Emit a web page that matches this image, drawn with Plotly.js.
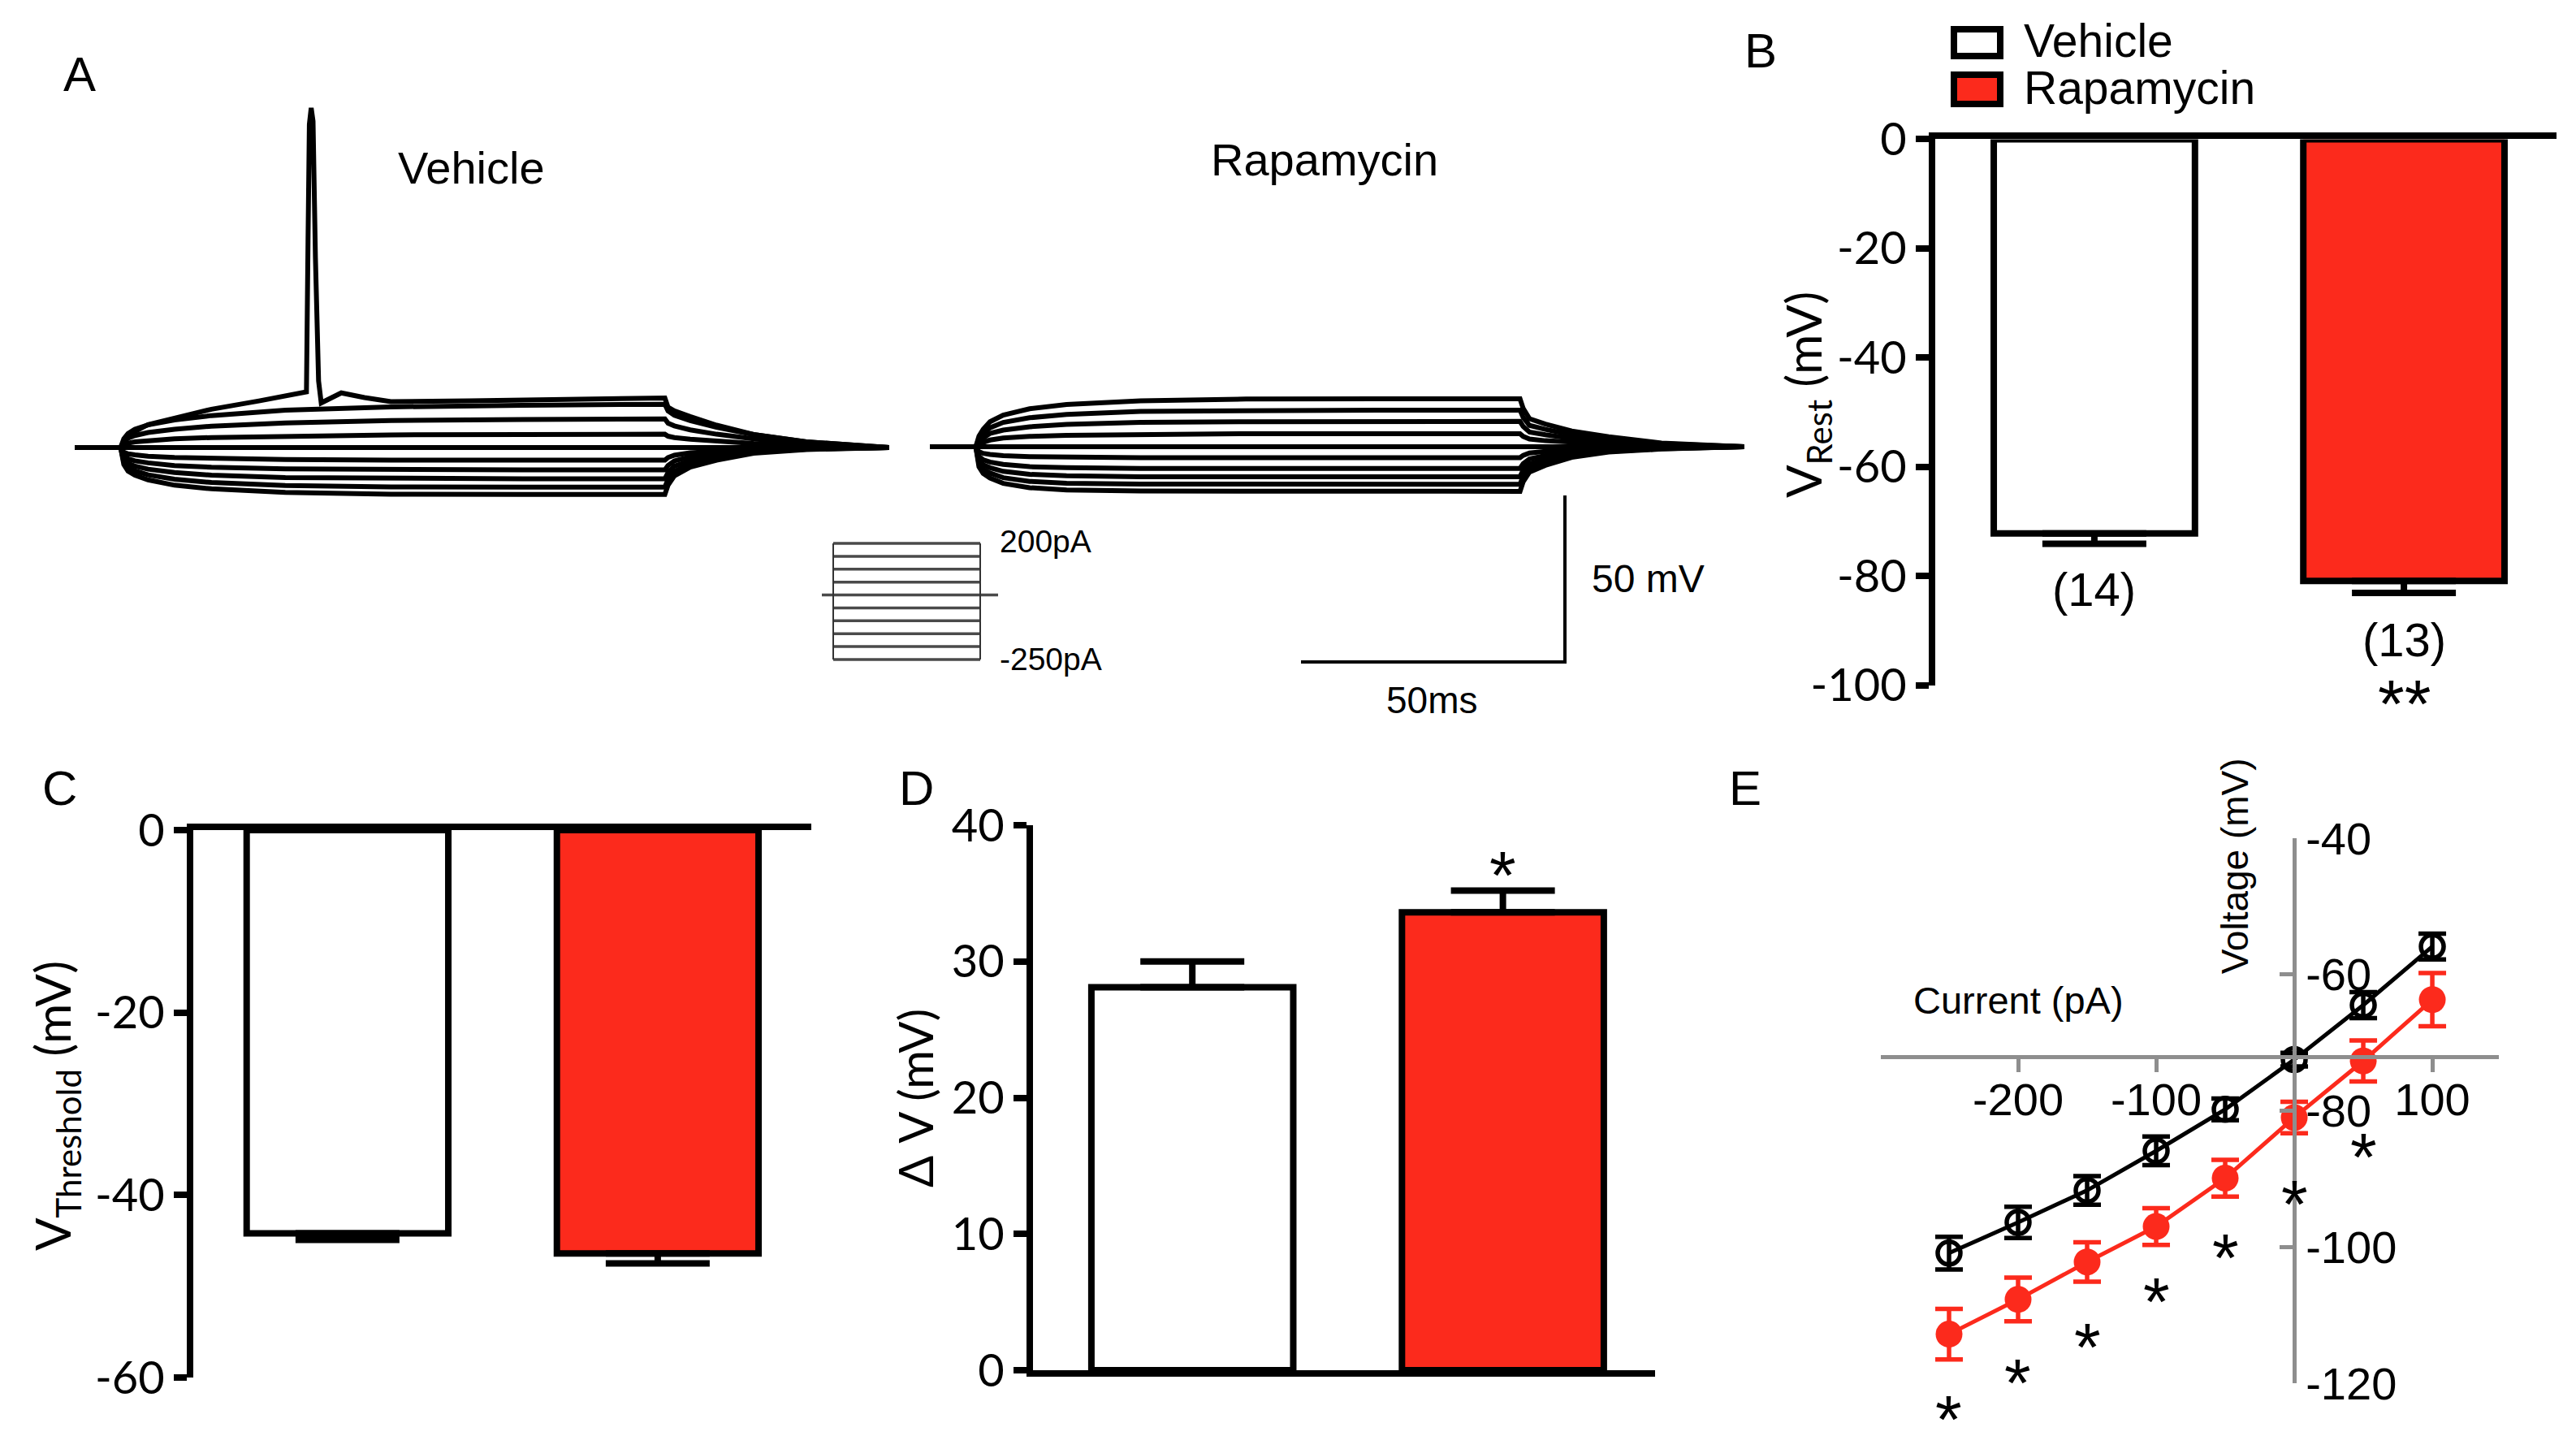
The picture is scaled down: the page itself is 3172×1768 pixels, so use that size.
<!DOCTYPE html>
<html>
<head>
<meta charset="utf-8">
<script src="https://cdn.plot.ly/plotly-3.0.1.min.js"></script>
<style>
html,body{margin:0;padding:0;background:#ffffff;}
#chart{width:3172px;height:1768px;}
</style>
</head>
<body>
<div id="chart"></div>
<script>
// ======================= DATA =======================
const groups = ['Vehicle', 'Rapamycin'];
const cellCounts = [14, 13];

// Panel A: current-step protocol (pA) and example membrane-voltage traces (time in ms, voltage in mV)
const stepCurrents = [200, 150, 100, 50, 0, -50, -100, -150, -200, -250];
const traceTime = [0, 8.7, 9.3, 10.1, 11.4, 13.9, 18.9, 25.9, 39.9, 59.9, 84.9, 111.8, 112.4, 113.6, 116.6, 121.6, 128.6, 138.6, 154.3];
// Vehicle, +200 pA step (fires one action potential)
const vehicleSpikeTime = [0, 8.7, 9.3, 10.1, 11.4, 13.9, 18.9, 25.9, 34.9, 39.9, 43.9, 44.2, 44.45, 44.8, 45.15, 45.6, 46.2, 46.7, 48.4, 50.5, 54.9, 59.9, 74.9, 94.9, 111.8, 112.4, 113.6, 116.6, 121.6, 128.6, 138.6, 154.3];
const vehicleSpikeTrace = [-72, -72, -70.0, -68.5, -67.2, -65.1, -63.2, -60.5, -58.0, -56.5, -55.3, -10, 25, 30, 26, -15, -52, -58.6, -57.2, -55.6, -57.0, -58.2, -58.0, -57.7, -57.1, -59.9, -61.0, -62.7, -65.3, -68.1, -70.3, -72];
// Vehicle, +150 ... -250 pA steps
const vehicleTraces = [
  [-72, -72, -69.4, -67.8, -66.5, -65.2, -63.7, -62.4, -60.8, -59.8, -59.3, -59.0, -61.0, -62.3, -63.9, -65.9, -68.1, -70.3, -72],
  [-72, -72, -70.3, -69.2, -68.4, -67.5, -66.5, -65.6, -64.6, -63.9, -63.6, -63.4, -64.7, -65.5, -66.7, -68.0, -69.4, -70.9, -72],
  [-72, -72, -71.2, -70.7, -70.3, -69.9, -69.4, -69.0, -68.6, -68.2, -68.1, -68.0, -68.6, -69.0, -69.5, -70.1, -70.8, -71.5, -72],
  [-72, -72, -72.1, -72.1, -72.0, -72.1, -72.0, -72.1, -72.0, -72.1, -72.0, -72.1, -72.0, -72.0, -72.1, -72.0, -72.0, -72.0, -72],
  [-72, -72, -73.4, -73.9, -74.2, -74.6, -75.0, -75.3, -75.6, -75.8, -75.8, -75.8, -75.0, -74.3, -73.6, -73.0, -72.5, -72.2, -72],
  [-72, -72, -74.4, -75.4, -76.0, -76.6, -77.4, -77.9, -78.4, -78.6, -78.7, -78.7, -77.4, -76.0, -74.8, -73.8, -72.8, -72.3, -72],
  [-72, -72, -75.4, -76.7, -77.6, -78.5, -79.5, -80.3, -81.0, -81.3, -81.4, -81.4, -79.5, -77.6, -76.0, -74.5, -73.1, -72.4, -72],
  [-72, -72, -76.3, -78.0, -79.0, -80.2, -81.5, -82.5, -83.4, -83.8, -83.9, -83.9, -81.5, -79.1, -77.0, -75.2, -73.4, -72.5, -72],
  [-72, -72, -77.1, -79.1, -80.3, -81.7, -83.3, -84.4, -85.5, -86.0, -86.1, -86.1, -83.3, -80.5, -77.9, -75.8, -73.7, -72.6, -72]
];
// Rapamycin, +200 ... -250 pA steps
const rapamycinTraces = [
  [-81, -81, -77.8, -75.8, -73.5, -71.5, -69.6, -68.3, -67.2, -66.7, -66.6, -66.6, -69.5, -72.6, -74.2, -76.3, -78.0, -79.9, -81],
  [-81, -81, -78.6, -77.0, -75.3, -73.7, -72.3, -71.3, -70.4, -70.1, -70.0, -70.0, -72.2, -74.6, -75.8, -77.4, -78.7, -80.1, -81],
  [-81, -81, -79.3, -78.3, -77.0, -76.0, -75.0, -74.3, -73.7, -73.5, -73.4, -73.4, -74.9, -76.6, -77.4, -78.5, -79.4, -80.4, -81],
  [-81, -81, -80.1, -79.6, -79.0, -78.4, -77.9, -77.6, -77.3, -77.1, -77.1, -77.1, -77.9, -78.7, -79.2, -79.7, -80.2, -80.7, -81],
  [-81, -81, -81.1, -81.0, -81.1, -81.0, -81.1, -81.0, -81.1, -81.0, -81.1, -81.0, -81.0, -81.1, -81.0, -81.0, -81.1, -81.0, -81],
  [-81, -81, -82.5, -83.0, -83.3, -83.7, -84.0, -84.2, -84.3, -84.3, -84.3, -84.3, -83.6, -82.9, -82.4, -81.8, -81.4, -81.2, -81],
  [-81, -81, -83.9, -84.9, -85.6, -86.3, -87.0, -87.3, -87.5, -87.5, -87.5, -87.5, -86.1, -84.7, -83.7, -82.6, -81.8, -81.3, -81],
  [-81, -81, -85.1, -86.4, -87.3, -88.4, -89.3, -89.7, -90.0, -90.0, -90.0, -90.0, -88.0, -86.1, -84.8, -83.2, -82.1, -81.5, -81],
  [-81, -81, -86.1, -87.8, -88.9, -90.3, -91.4, -92.0, -92.2, -92.3, -92.3, -92.3, -89.8, -87.4, -85.8, -83.7, -82.4, -81.6, -81],
  [-81, -81, -87.0, -89.0, -90.4, -92.0, -93.3, -94.0, -94.3, -94.4, -94.4, -94.4, -91.5, -88.6, -86.6, -84.2, -82.6, -81.7, -81]
];
const scaleBarMs = 50;
const scaleBarMv = 50;

// Panel B: resting membrane potential (mV)
const restMean = [-72.2, -80.9];
const restSem = [1.9, 2.2];
const restSig = ['', '**'];

// Panel C: threshold potential (mV)
const thresholdMean = [-44.2, -46.4];
const thresholdSem = [0.7, 1.1];

// Panel D: delta V (mV)
const deltaVMean = [28.1, 33.6];
const deltaVSem = [1.9, 1.6];
const deltaVSig = ['', '*'];

// Panel E: current-voltage relation
const ivCurrent = [-250, -200, -150, -100, -50, 0, 50, 100];
const ivVehicleMean = [-100.9, -96.4, -91.7, -85.9, -79.8, -72.5, -64.5, -55.9];
const ivVehicleSem = [2.4, 2.3, 2.1, 2.1, 1.6, 1.0, 1.9, 1.9];
const ivRapamycinMean = [-112.8, -107.7, -102.2, -97.0, -89.9, -81.0, -72.7, -63.7];
const ivRapamycinSem = [3.7, 3.2, 2.9, 2.7, 2.7, 2.3, 3.0, 3.9];
const ivSig = ['*', '*', '*', '*', '*', '*', '*', ''];
const ivStarY = [-122.8, -117.4, -112.1, -105.5, -99.0, -91.2, -84.2, null];
const eXTicks = [-200, -100, 100];
const eYTicks = [-40, -60, -80, -100, -120];

// ======================= LAYOUT HELPERS =======================
const W = 3172, H = 1768;
const fx = p => p / W;
const fy = p => 1 - p / H;
const RED = '#fc2a1c';
const GRAY = '#8e8e8e';
const ARIAL = 'Liberation Sans, Arial, sans-serif';
const GILL = 'Lato, Liberation Sans, sans-serif';
const PX_MS = 6.5, PX_MV = 4.1;

const traces = [];
const lineStyle = {color: '#000', width: 6};

// ---- Panel A traces ----
const tEnd = traceTime[traceTime.length - 1];
traces.push({x: vehicleSpikeTime, y: vehicleSpikeTrace, xaxis: 'x', yaxis: 'y', mode: 'lines', line: lineStyle, hoverinfo: 'skip'});
vehicleTraces.forEach(v => traces.push({x: traceTime, y: v, xaxis: 'x', yaxis: 'y', mode: 'lines', line: lineStyle, hoverinfo: 'skip'}));
rapamycinTraces.forEach(v => traces.push({x: traceTime, y: v, xaxis: 'x2', yaxis: 'y2', mode: 'lines', line: lineStyle, hoverinfo: 'skip'}));

// scale bars (axis 3: ms / mV, same scale as traces)
const SB_CX = (1927 - 1000) / PX_MS, SB_CY = (900 - 815) / PX_MV;
traces.push({x: [SB_CX - scaleBarMs, SB_CX, SB_CX], y: [SB_CY, SB_CY, SB_CY + scaleBarMv],
  xaxis: 'x3', yaxis: 'y3', mode: 'lines', line: {color: '#000', width: 4}, hoverinfo: 'skip'});

// step protocol (axis 4: pA)
stepCurrents.forEach(c => {
  const xs = c === 0 ? [12, 229] : [26, 207];
  traces.push({x: xs, y: [c, c], xaxis: 'x4', yaxis: 'y4', mode: 'lines', line: {color: '#4a4a4a', width: 3.5}, hoverinfo: 'skip'});
});
const cMax = Math.max(...stepCurrents), cMin = Math.min(...stepCurrents);
[26, 207].forEach(xv => traces.push({x: [xv, xv], y: [cMin, cMax], xaxis: 'x4', yaxis: 'y4', mode: 'lines', line: {color: '#333', width: 2}, hoverinfo: 'skip'}));

// ---- Panel B/C/D bars ----
const barColors = ['#ffffff', RED];
function barTrace(xa, ya, mean, sem, up) {
  return {type: 'bar', x: groups, y: mean, xaxis: xa, yaxis: ya, width: 0.65,
    marker: {color: barColors, line: {color: '#000', width: 8}},
    error_y: {type: 'data', symmetric: false, array: up ? sem : sem.map(() => 0), arrayminus: up ? sem.map(() => 0) : sem,
      color: '#000', thickness: 8, width: 64},
    cliponaxis: false, hoverinfo: 'skip'};
}
traces.push(barTrace('x5', 'y5', restMean, restSem, false));
traces.push(barTrace('x6', 'y6', thresholdMean, thresholdSem, false));
traces.push(barTrace('x7', 'y7', deltaVMean, deltaVSem, true));

// ---- Panel E ----
traces.push({x: ivCurrent, y: ivRapamycinMean, xaxis: 'x8', yaxis: 'y8', mode: 'lines+markers', name: groups[1],
  line: {color: RED, width: 5}, marker: {symbol: 'circle', size: 33, color: RED},
  error_y: {type: 'data', array: ivRapamycinSem, color: RED, thickness: 5.5, width: 17}, cliponaxis: false, hoverinfo: 'skip'});
traces.push({x: ivCurrent, y: ivVehicleMean, xaxis: 'x8', yaxis: 'y8', mode: 'lines+markers', name: groups[0],
  line: {color: '#000', width: 5}, marker: {symbol: 'circle-open', size: 28, color: '#000', line: {width: 5.5, color: '#000'}},
  error_y: {type: 'data', array: ivVehicleSem, color: '#000', thickness: 5.5, width: 17}, cliponaxis: false, hoverinfo: 'skip'});

// ======================= AXES =======================
const hidden = {visible: false, fixedrange: true, showgrid: false, zeroline: false};
const A_TOP = 110, A_BOT = 640;
const VEH_X0 = 92, VEH_BASE = 551, RAP_X0 = 1145, RAP_BASE = 550;
const vehRest = vehicleTraces[3][0], rapRest = rapamycinTraces[4][0];

const layout = {
  width: W, height: H,
  margin: {l: 0, r: 0, t: 0, b: 0},
  paper_bgcolor: '#ffffff', plot_bgcolor: 'rgba(0,0,0,0)',
  showlegend: false,
  font: {family: ARIAL, color: '#000'},
  xaxis: Object.assign({}, hidden, {domain: [fx(VEH_X0), fx(VEH_X0 + tEnd * PX_MS)], range: [0, tEnd], anchor: 'y'}),
  yaxis: Object.assign({}, hidden, {domain: [fy(A_BOT), fy(A_TOP)], range: [vehRest - (A_BOT - VEH_BASE) / PX_MV, vehRest + (VEH_BASE - A_TOP) / PX_MV], anchor: 'x'}),
  xaxis2: Object.assign({}, hidden, {domain: [fx(RAP_X0), fx(RAP_X0 + tEnd * PX_MS)], range: [0, tEnd], anchor: 'y2'}),
  yaxis2: Object.assign({}, hidden, {domain: [fy(A_BOT), fy(A_TOP)], range: [rapRest - (A_BOT - RAP_BASE) / PX_MV, rapRest + (RAP_BASE - A_TOP) / PX_MV], anchor: 'x2'}),
  xaxis3: Object.assign({}, hidden, {domain: [fx(1000), fx(2160)], range: [0, 1160 / PX_MS], anchor: 'y3'}),
  yaxis3: Object.assign({}, hidden, {domain: [fy(900), fy(580)], range: [0, 320 / PX_MV], anchor: 'x3'}),
};
const PX_PA = (812 - 669) / (cMax - cMin);
layout.xaxis4 = Object.assign({}, hidden, {domain: [fx(1000), fx(1240)], range: [0, 240], anchor: 'y4'});
layout.yaxis4 = Object.assign({}, hidden, {domain: [fy(840), fy(640)], range: [cMin - (840 - 812) / PX_PA, cMax + (669 - 640) / PX_PA], anchor: 'x4'});

function barX(d0, d1, r, side, anchor) {
  return {domain: [fx(d0), fx(d1)], range: r, type: 'category', side: side, showline: true, linecolor: '#000', linewidth: 8,
    ticks: '', showticklabels: false, showgrid: false, zeroline: false, fixedrange: true, anchor: anchor};
}
function barY(p0, p1, r, tv, anchor) {
  return {domain: [fy(p0), fy(p1)], range: r, showline: true, linecolor: '#000', linewidth: 8,
    ticks: 'outside', ticklen: 16, tickwidth: 8, tickcolor: '#000', tickvals: tv, ticktext: tv.map(v => String(v)),
    tickfont: {family: GILL, size: 56, color: '#000'}, showgrid: false, zeroline: false, fixedrange: true, anchor: anchor};
}
layout.xaxis5 = barX(2383, 3148, [-0.514, 1.493], 'top', 'y5');
layout.yaxis5 = barY(843.6, 171.4, [-100, 0], [0, -20, -40, -60, -80, -100], 'x5');
layout.xaxis6 = barX(238, 999, [-0.497, 1.495], 'top', 'y6');
layout.yaxis6 = barY(1696, 1022, [-60, 0], [0, -20, -40, -60], 'x6');
layout.xaxis7 = barX(1272, 2038, [-0.513, 1.49], 'bottom', 'y7');
layout.yaxis7 = barY(1687, 1016, [0, 40], [0, 10, 20, 30, 40], 'x7');

// Panel E axes crossing at (0 pA, -72.1 mV)
const E_X0 = 2316, E_X1 = 3077, E_Y0 = 1703, E_Y1 = 1032;
const eXRange = [-299.4, 148.2], eYRange = [-120, -40];
const eCrossV = -72.1, eCrossI = 0;
const eXPos = fy(E_Y0) + (eCrossV - eYRange[0]) / (eYRange[1] - eYRange[0]) * (fy(E_Y1) - fy(E_Y0));
const eYPos = fx(E_X0) + (eCrossI - eXRange[0]) / (eXRange[1] - eXRange[0]) * (fx(E_X1) - fx(E_X0));
layout.xaxis8 = {domain: [fx(E_X0), fx(E_X1)], range: eXRange, anchor: 'free', position: eXPos,
  showline: true, linecolor: GRAY, linewidth: 5, ticks: 'outside', ticklen: 16, tickwidth: 5, tickcolor: GRAY,
  tickvals: eXTicks, ticktext: eXTicks.map(v => String(v)), tickfont: {family: ARIAL, size: 56, color: '#000'},
  ticklabelstandoff: -14, showgrid: false, zeroline: false, fixedrange: true};
layout.yaxis8 = {domain: [fy(E_Y0), fy(E_Y1)], range: eYRange, anchor: 'free', position: eYPos, side: 'right',
  showline: true, linecolor: GRAY, linewidth: 5, ticks: 'inside', ticklen: 16, tickwidth: 5, tickcolor: GRAY,
  tickvals: eYTicks, ticktext: eYTicks.map(v => String(v)), tickfont: {family: ARIAL, size: 56, color: '#000'},
  showgrid: false, zeroline: false, fixedrange: true};

// data -> paper conversion (so that marks outside an axis range still show)
function paperX(ax, v) { const a = layout[ax]; return a.domain[0] + (v - a.range[0]) / (a.range[1] - a.range[0]) * (a.domain[1] - a.domain[0]); }
function paperY(ax, v) { return paperX(ax, v); }

// ======================= ANNOTATIONS & SHAPES =======================
const ann = [];
function pText(text, x, y, size, opts) {
  ann.push(Object.assign({text: text, x: fx(x), y: fy(y), xref: 'paper', yref: 'paper', showarrow: false,
    xanchor: 'center', yanchor: 'middle', font: {family: ARIAL, size: size, color: '#000'}}, opts || {}));
}
[['A', 98, 91], ['B', 2168, 63], ['C', 73, 970], ['D', 1128, 970], ['E', 2149, 970]].forEach(l => pText(l[0], l[1], l[2], 60));
pText(groups[0], 580, 206, 56);
pText(groups[1], 1631, 196, 56);
pText(cMax + 'pA', 1229, 666, 39, {xanchor: 'left'});
pText(cMin + 'pA', 1229, 812, 39, {xanchor: 'left'});
pText(scaleBarMv + ' mV', 1958, 712, 48, {xanchor: 'left'});
pText(scaleBarMs + 'ms', 1763, 862, 46);

// axis titles (B, C, D)
pText('V<sub>Rest</sub> (mV)', 2224, 486, 60, {textangle: -90, font: {family: GILL, size: 60, color: '#000'}});
pText('V<sub>Threshold</sub> (mV)', 68, 1362, 60, {textangle: -90, font: {family: GILL, size: 60, color: '#000'}});
pText('\u0394 V (mV)', 1126, 1352, 58, {textangle: -90, font: {family: GILL, size: 58, color: '#000'}});

// legend (B)
const shapes = [];
const legendRows = [[36, 69, 50], [92, 128, 108]];
groups.forEach((g, i) => {
  const r = legendRows[i];
  shapes.push({type: 'rect', xref: 'paper', yref: 'paper', x0: fx(2406), x1: fx(2463), y0: fy(r[1]), y1: fy(r[0]),
    line: {color: '#000', width: 8}, fillcolor: barColors[i]});
  pText(g, 2490, r[2], 57, {xanchor: 'left'});
});

// n labels and significance (B, D)
const nLabelY = [-82.5, -91.6];
const STAR = 84;
// the asterisk sits in the upper part of the em box: clip the box to that band so it is centred on the point
function star(text, px, py) {
  ann.push({text: text, x: px, y: py, xref: 'paper', yref: 'paper', showarrow: false,
    xanchor: 'center', yanchor: 'middle', height: Math.round(0.6 * STAR), valign: 'top', borderpad: 0,
    font: {family: ARIAL, size: STAR, color: '#000'}});
}
groups.forEach((g, i) => {
  ann.push({text: '(' + cellCounts[i] + ')', x: g, y: nLabelY[i], xref: 'x5', yref: 'y5', showarrow: false,
    xanchor: 'center', yanchor: 'middle', font: {family: ARIAL, size: 58, color: '#000'}});
  if (restSig[i]) star(restSig[i], paperX('xaxis5', i), paperY('yaxis5', -100.2));
  if (deltaVSig[i]) star(deltaVSig[i], paperX('xaxis7', i), paperY('yaxis7', 37.6));
});

// E: significance stars and axis titles
ivCurrent.forEach((c, i) => {
  if (ivSig[i]) star(ivSig[i], paperX('xaxis8', c), paperY('yaxis8', ivStarY[i]));
});
ann.push({text: 'Current (pA)', x: -200, y: -63.8, xref: 'x8', yref: 'y8', showarrow: false,
  xanchor: 'center', yanchor: 'middle', font: {family: ARIAL, size: 47, color: '#000'}});
ann.push({text: 'Voltage (mV)', x: -43, y: -44.1, xref: 'x8', yref: 'y8', showarrow: false, textangle: -90,
  xanchor: 'center', yanchor: 'middle', font: {family: ARIAL, size: 46, color: '#000'}});

layout.annotations = ann;
layout.shapes = shapes;

Plotly.newPlot('chart', traces, layout, {staticPlot: true, displayModeBar: false});
</script>
</body>
</html>
